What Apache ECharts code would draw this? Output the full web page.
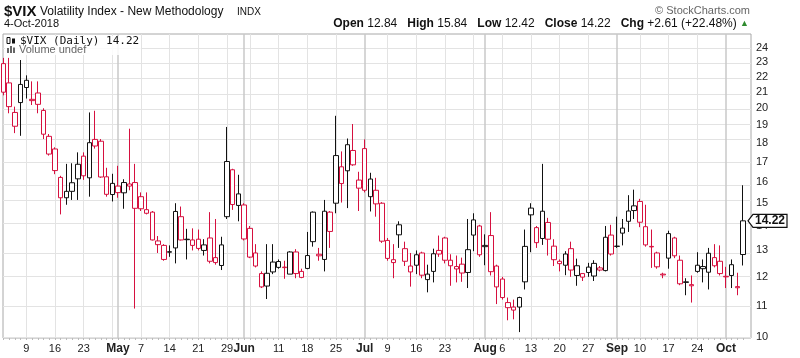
<!DOCTYPE html>
<html><head><meta charset="utf-8">
<script src="https://cdn.jsdelivr.net/npm/echarts@6/dist/echarts.min.js"></script>
<style>html,body{margin:0;padding:0;background:#fff}#c{width:800px;height:358px}</style>
</head><body><div id="c"></div>
<script>
// trading dates (2018)
const dates = [
 '04-03','04-04','04-05','04-06','04-09','04-10','04-11','04-12','04-13','04-16','04-17','04-18','04-19','04-20','04-23','04-24','04-25','04-26','04-27','04-30',
 '05-01','05-02','05-03','05-04','05-07','05-08','05-09','05-10','05-11','05-14','05-15','05-16','05-17','05-18','05-21','05-22','05-23','05-24','05-25','05-29','05-30','05-31',
 '06-01','06-04','06-05','06-06','06-07','06-08','06-11','06-12','06-13','06-14','06-15','06-18','06-19','06-20','06-21','06-22','06-25','06-26','06-27','06-28','06-29',
 '07-02','07-03','07-05','07-06','07-09','07-10','07-11','07-12','07-13','07-16','07-17','07-18','07-19','07-20','07-23','07-24','07-25','07-26','07-27','07-30','07-31',
 '08-01','08-02','08-03','08-06','08-07','08-08','08-09','08-10','08-13','08-14','08-15','08-16','08-17','08-20','08-21','08-22','08-23','08-24','08-27','08-28','08-29','08-30','08-31',
 '09-04','09-05','09-06','09-07','09-10','09-11','09-12','09-13','09-14','09-17','09-18','09-19','09-20','09-21','09-24','09-25','09-26','09-27','09-28',
 '10-01','10-02','10-03','10-04'
];
const open = [
 22.9,21.6,19.75,20.35,21.3,20.55,20.95,19.87,18.37,17.68,16.22,15.25,15.55,16.15,17.3,16.2,18.2,18.1,16.25,15.4,
 15.8,15.48,15.8,15.97,15.3,14.55,14.6,13.38,13.2,12.95,13.1,14.4,13.45,13.2,13.45,13.0,13.5,12.72,12.42,14.4,16.6,14.9,
 14.92,13.9,12.9,12.12,11.67,12.55,12.57,12.36,12.1,12.94,12.2,12.8,14.6,12.85,12.65,14.6,15.0,16.75,16.55,17.6,15.7,
 17.7,15.3,15.6,15.0,13.4,12.53,14.05,13.07,12.4,12.43,12.9,11.9,12.2,13.0,13.5,12.62,12.38,12.47,12.16,13.62,14.0,
 13.2,13.6,12.4,11.92,11.1,10.95,10.95,11.82,14.48,13.93,13.48,14.15,13.17,12.58,12.43,13.07,12.05,12.12,12.36,12.03,12.33,12.23,13.62,
 13.17,13.7,14.2,14.67,15.08,13.97,13.16,12.9,12.1,12.7,13.5,12.62,11.82,11.72,12.43,12.3,12.17,12.72,12.58,
 12.02,12.45,11.65,12.84
];
const high = [
 23.3,23.3,20.1,23.15,22.1,21.7,21.7,20.0,18.5,17.77,16.3,16.9,16.93,17.5,17.5,19.75,19.85,18.22,16.7,16.4,
 16.8,16.13,18.8,16.9,15.5,15.5,14.65,13.58,13.25,13.2,15.0,14.85,13.88,13.9,13.85,13.45,14.6,14.3,13.55,18.9,16.65,16.35,
 15.0,14.0,13.25,12.2,13.25,13.25,12.65,12.6,12.97,13.05,12.3,13.75,14.63,13.1,15.15,14.65,19.55,17.55,18.25,19.07,16.5,
 18.2,16.45,16.2,15.05,13.5,13.25,14.2,13.35,12.9,13.0,12.95,12.45,13.07,13.6,13.55,12.85,12.8,12.72,14.3,14.55,14.05,
 13.65,14.6,12.45,12.0,11.27,11.2,11.3,13.85,15.0,14.0,16.9,14.35,13.45,12.65,12.97,13.35,12.68,12.12,12.52,12.62,12.4,14.0,14.05,
 14.4,14.3,15.37,15.63,15.2,14.93,13.85,12.95,12.15,13.8,13.55,12.8,11.95,12.05,12.93,12.65,13.1,13.25,13.2,
 12.37,12.65,12.15,15.84
];
const low = [
 20.8,19.7,18.55,18.4,20.6,20.2,19.7,18.22,17.33,16.38,14.5,14.93,15.15,15.15,16.1,15.3,17.7,16.2,15.3,15.08,
 15.25,14.75,15.6,10.9,14.65,14.5,13.4,12.9,12.6,12.75,12.5,13.4,12.65,13.0,13.0,12.8,12.5,12.45,12.25,14.3,14.7,14.2,
 13.4,12.7,12.35,11.6,11.22,12.1,12.3,11.93,12.1,11.95,11.95,12.28,13.15,12.6,12.2,13.1,14.55,15.03,14.78,16.8,14.65,
 15.5,14.63,14.4,13.3,12.6,11.95,13.1,12.4,11.65,12.1,11.95,11.45,11.8,12.75,12.5,11.68,11.8,11.82,11.6,12.97,12.75,
 12.43,12.05,11.05,11.2,10.52,10.55,10.15,11.55,12.93,13.1,13.22,12.8,12.4,12.2,12.06,12.0,11.68,11.85,12.0,11.85,12.2,12.2,12.8,
 13.1,13.2,13.75,14.3,13.95,13.15,12.33,12.3,11.95,12.3,12.7,11.7,11.35,11.1,12.15,11.8,11.55,12.35,12.05,
 11.6,11.6,11.35,12.42
];
const close = [
 21.0,20.1,18.94,21.5,21.77,20.47,20.24,18.49,17.41,16.56,15.25,15.55,15.96,16.88,16.3,18.02,17.84,16.24,15.41,15.93,
 15.49,15.97,15.9,14.77,14.75,14.71,13.42,13.23,12.65,12.93,14.63,13.42,13.43,13.42,13.08,13.22,12.58,12.53,13.22,17.02,14.94,15.43,
 13.46,12.74,12.4,11.64,12.13,12.18,12.35,12.34,12.94,12.12,11.98,12.31,13.35,12.79,14.64,13.77,17.33,15.92,17.91,16.85,16.09,
 15.6,16.14,14.97,13.37,12.69,12.64,13.63,12.58,12.18,12.83,12.06,12.1,12.87,12.86,12.62,12.41,12.29,12.14,13.03,14.26,12.83,
 13.15,12.19,11.64,11.27,10.93,10.85,11.27,13.16,14.78,13.31,14.64,13.45,12.64,12.49,12.86,12.25,12.41,11.99,12.16,12.5,12.25,13.53,12.86,
 13.16,13.91,14.65,14.88,14.16,13.22,13.14,12.37,12.07,13.68,12.79,11.75,11.8,11.68,12.2,12.38,12.89,12.41,12.12,
 12.0,12.05,11.61,14.22
];
const yTicks = [10,11,12,13,14,15,16,17,18,19,20,21,22,23,24];
const xLabelDates = ['04-09','04-16','04-23','05-01','05-07','05-14','05-21','05-29','06-01','06-11','06-18','06-25',
 '07-02','07-09','07-16','07-23','08-01','08-06','08-13','08-20','08-27','09-04','09-10','09-17','09-24','10-01'];
const monthNames = ['Jan','Feb','Mar','Apr','May','Jun','Jul','Aug','Sep','Oct','Nov','Dec'];

const RED = '#d6103f', BLK = '#111111';
const mon = d => parseInt(d.slice(0,2),10), day = d => parseInt(d.slice(3),10);
const wd = d => new Date(2018, mon(d)-1, day(d)).getDay();
const isMonthStart = i => i > 0 && mon(dates[i]) !== mon(dates[i-1]);
const weekIdx = [], monthIdx = [];
dates.forEach((d,i) => {
  if (i > 0 && wd(d) <= wd(dates[i-1])) weekIdx.push(i);
  if (isMonthStart(i)) monthIdx.push(i);
});
const labelIdx = xLabelDates.map(d => dates.indexOf(d));
const labelText = {};
labelIdx.forEach(i => { labelText[i] = isMonthStart(i) ? '{m|' + monthNames[mon(dates[i])-1] + '}' : '{d|' + day(dates[i]) + '}'; });

const candles = dates.map((d,i) => {
  const prev = i > 0 ? close[i-1] : open[i];
  const col = close[i] >= prev ? BLK : RED;
  return { value: [i, open[i], close[i], low[i], high[i]],
    itemStyle: { color: '#ffffff', color0: col, borderColor: col, borderColor0: col, borderColorDoji: col, borderWidth: 1 } };
});

const L10 = v => Math.log10(v);
const gridLine = { color: '#e3e3e3', width: 1, type: 'solid' };
const font = '"Liberation Sans", Arial, sans-serif';

const chart = echarts.init(document.getElementById('c'), null, { renderer: 'canvas' });
chart.setOption({
  animation: false,
  backgroundColor: '#ffffff',
  title: [
    { text: '$VIX', left: 4, top: 4, padding: 0, textStyle: { fontFamily: font, fontSize: 15, fontWeight: 'bold', color: '#111' } },
    { text: 'Volatility Index - New Methodology', left: 40, top: 6, padding: 0, textStyle: { fontFamily: font, fontSize: 12, fontWeight: 'normal', color: '#111' } },
    { text: 'INDX', left: 237, top: 7, padding: 0, textStyle: { fontFamily: font, fontSize: 10, fontWeight: 'normal', color: '#111' } },
    { text: '4-Oct-2018', left: 4, top: 18, padding: 0, textStyle: { fontFamily: font, fontSize: 11, fontWeight: 'normal', color: '#111' } },
    { text: '\u00a9 StockCharts.com', right: 50, top: 5, padding: 0, textStyle: { fontFamily: font, fontSize: 11, fontWeight: 'normal', color: '#666' } },
    { text: '{l|Open} 12.84   {l|High} 15.84   {l|Low} 12.42   {l|Close} 14.22   {l|Chg} +2.61 (+22.48%) {g|\u25b2}',
      right: 51, top: 18, padding: 0,
      textStyle: { fontFamily: font, fontSize: 12, fontWeight: 'normal', color: '#111',
        rich: { l: { fontFamily: font, fontSize: 12, fontWeight: 'bold', color: '#111' },
                g: { fontFamily: font, fontSize: 9, color: '#2e8b2e' } } } }
  ],
  grid: { left: 3, right: 49, top: 34, bottom: 20, show: true, borderColor: '#a8a8a8', borderWidth: 1, backgroundColor: '#ffffff', containLabel: false, outerBoundsMode: 'none' },
  xAxis: {
    type: 'value', min: -0.06, max: 130.37,
    axisLine: { show: false },
    splitLine: { show: false },
    axisTick: { show: true, customValues: dates.map((d,i) => i), length: 2, lineStyle: { color: '#bbbbbb' } },
    axisLabel: { customValues: labelIdx, margin: 5, formatter: v => labelText[Math.round(v)] || '',
      rich: { m: { fontFamily: font, fontSize: 12, fontWeight: 'bold', color: '#222' },
              d: { fontFamily: font, fontSize: 11, color: '#222' } } }
  },
  yAxis: {
    type: 'value', position: 'right', min: L10(9.97), max: L10(25.05), scale: true,
    axisLine: { show: false },
    splitLine: { show: false },
    axisTick: { show: false },
    axisLabel: { customValues: yTicks.map(L10), margin: 5, formatter: v => String(Math.round(Math.pow(10, v))),
      fontFamily: font, fontSize: 11, color: '#222' }
  },
  series: [{
    type: 'candlestick',
    data: candles.map(c => ({ value: [c.value[0], L10(c.value[1]), L10(c.value[2]), L10(c.value[3]), L10(c.value[4])], itemStyle: c.itemStyle })),
    encode: { x: 0, y: [1, 2, 3, 4] },
    barWidth: 5,
    clip: true,
    z: 3,
    markLine: {
      silent: true, symbol: ['none', 'none'], z: 1, animation: false,
      label: { show: false },
      data: [
        ...yTicks.map(v => ({ yAxis: L10(v), lineStyle: gridLine })),
        ...weekIdx.filter(i => monthIdx.indexOf(i) < 0).map(i => ({ xAxis: i, lineStyle: gridLine })),
        ...monthIdx.map(i => ({ xAxis: i, lineStyle: { color: '#c8c8c8', width: 1.5, type: 'solid' } }))
      ]
    }
  }]
});

// last-close tag and legend decorations
const last = close.length - 1;
const ty = chart.convertToPixel({ yAxisIndex: 0 }, L10(close[last]));
chart.setOption({
  graphic: [
    { type: 'polygon', z: 100, shape: { points: [[748, ty], [753, ty - 6.5], [787, ty - 6.5], [787, ty + 6.5], [753, ty + 6.5]] },
      style: { fill: '#ffffff', stroke: '#111', lineWidth: 1.2 } },
    { type: 'text', z: 101, x: 770, y: ty, style: { text: close[last].toFixed(2), font: 'bold 12px ' + font, fill: '#111', align: 'center', verticalAlign: 'middle' } },
    // legend line 1
    { type: 'rect', z: 100, shape: { x: 5, y: 36, width: 136, height: 19 }, style: { fill: 'rgba(255,255,255,0.85)' } },
    { type: 'rect', z: 101, shape: { x: 7, y: 37.5, width: 3, height: 6 }, style: { fill: '#ffffff', stroke: '#111', lineWidth: 1 } },
    { type: 'rect', z: 101, shape: { x: 12, y: 38.5, width: 3, height: 5 }, style: { fill: '#111' } },
    { type: 'text', z: 101, x: 20, y: 41.5, style: { text: '$VIX (Daily) 14.22', font: '11px "DejaVu Sans Mono", monospace', fill: '#111', verticalAlign: 'middle' } },
    // legend line 2
    { type: 'rect', z: 101, shape: { x: 7, y: 48, width: 2, height: 5 }, style: { fill: '#666' } },
    { type: 'rect', z: 101, shape: { x: 10, y: 46, width: 2, height: 7 }, style: { fill: '#666' } },
    { type: 'rect', z: 101, shape: { x: 13, y: 47.5, width: 2, height: 5.5 }, style: { fill: '#666' } },
    { type: 'text', z: 101, x: 19, y: 50, style: { text: 'Volume undef', font: '11px ' + font, fill: '#666', verticalAlign: 'middle' } }
  ]
});
</script></body></html>
